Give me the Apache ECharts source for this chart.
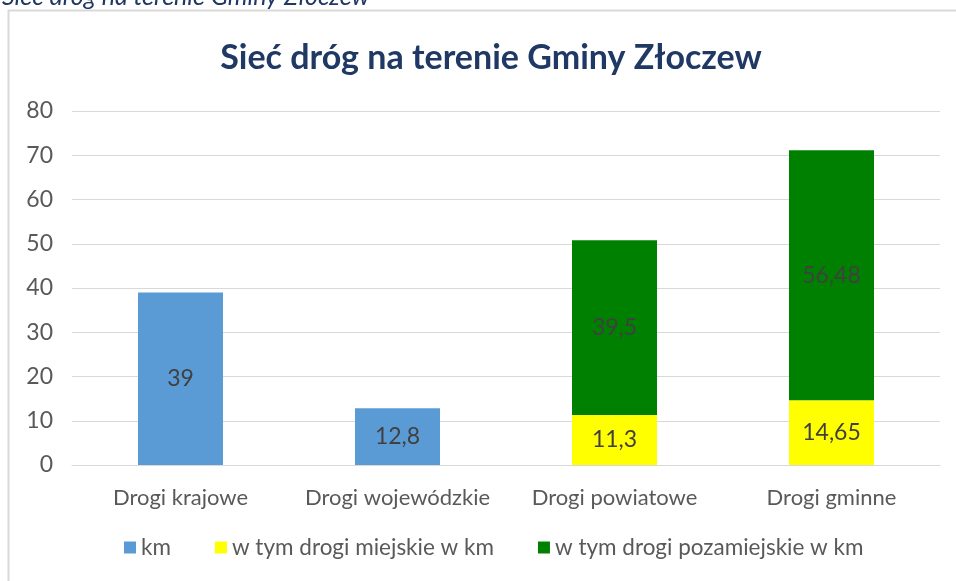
<!DOCTYPE html>
<html>
<head>
<meta charset="utf-8">
<script src="https://cdn.jsdelivr.net/npm/echarts@6/dist/echarts.min.js"></script>
<style>
  html, body { margin: 0; padding: 0; background: #fff; }
  #chart { width: 956px; height: 581px; }
</style>
</head>
<body>
<div id="chart"></div>
<script>
var categories = ['Drogi krajowe', 'Drogi wojewódzkie', 'Drogi powiatowe', 'Drogi gminne'];
var kmValues = [39, 12.8, null, null];
var miejskieValues = [null, null, 11.3, 14.65];
var pozamiejskieValues = [null, null, 39.5, 56.48];
var seriesNames = ['km', 'w tym drogi miejskie w km', 'w tym drogi pozamiejskie w km'];

var labelFont = 'Lato';

function commaLabel(p) {
    return String(p.value).replace('.', ',');
}

function makeSeries(name, data, color) {
    return {
        name: name,
        type: 'bar',
        stack: 'total',
        barWidth: 85,
        data: data,
        itemStyle: { color: color },
        label: {
            show: true,
            position: 'inside',
            color: '#404040',
            fontFamily: labelFont,
            fontSize: 23,
            formatter: commaLabel
        }
    };
}

var myChart = echarts.init(document.getElementById('chart'));
myChart.setOption({
    backgroundColor: '#fff',
    animation: false,
    graphic: [{
        type: 'rect',
        shape: { x: 8.5, y: 10.5, width: 1000, height: 700 },
        style: { fill: 'none', stroke: '#d9d9d9', lineWidth: 2 },
        silent: true
    }, {
        type: 'text',
        left: 2,
        top: -16,
        style: {
            text: 'Sieć dróg na terenie Gminy Złoczew',
            fill: '#1f3864',
            font: 'italic 25px "Lato"'
        }
    }],
    title: {
        text: 'Sieć dróg na terenie Gminy Złoczew',
        left: 486,
        textAlign: 'center',
        top: 36,
        textStyle: {
            color: '#1f3864',
            fontFamily: labelFont,
            fontWeight: 'bold',
            fontSize: 34
        }
    },
    legend: {
        bottom: 17,
        left: 119,
        itemWidth: 12,
        itemHeight: 12,
        itemGap: 44,
        icon: 'rect',
        textStyle: { color: '#595959', fontFamily: labelFont, fontSize: 22.5 },
        data: seriesNames
    },
    grid: { left: 72, right: 16, top: 111, bottom: 116 },
    xAxis: {
        type: 'category',
        data: categories,
        axisLine: { lineStyle: { color: '#d9d9d9', width: 1 } },
        axisTick: { show: false },
        axisLabel: { color: '#595959', fontFamily: labelFont, fontSize: 22, margin: 22, interval: 0 }
    },
    yAxis: {
        type: 'value',
        min: 0,
        max: 80,
        interval: 10,
        axisLine: { show: false },
        axisTick: { show: false },
        axisLabel: { color: '#595959', fontFamily: labelFont, fontSize: 23, margin: 19 },
        splitLine: { lineStyle: { color: '#d9d9d9', width: 1 } }
    },
    series: [
        makeSeries(seriesNames[0], kmValues, '#5b9bd5'),
        makeSeries(seriesNames[1], miejskieValues, '#ffff00'),
        makeSeries(seriesNames[2], pozamiejskieValues, '#008000')
    ]
});
</script>
</body>
</html>
